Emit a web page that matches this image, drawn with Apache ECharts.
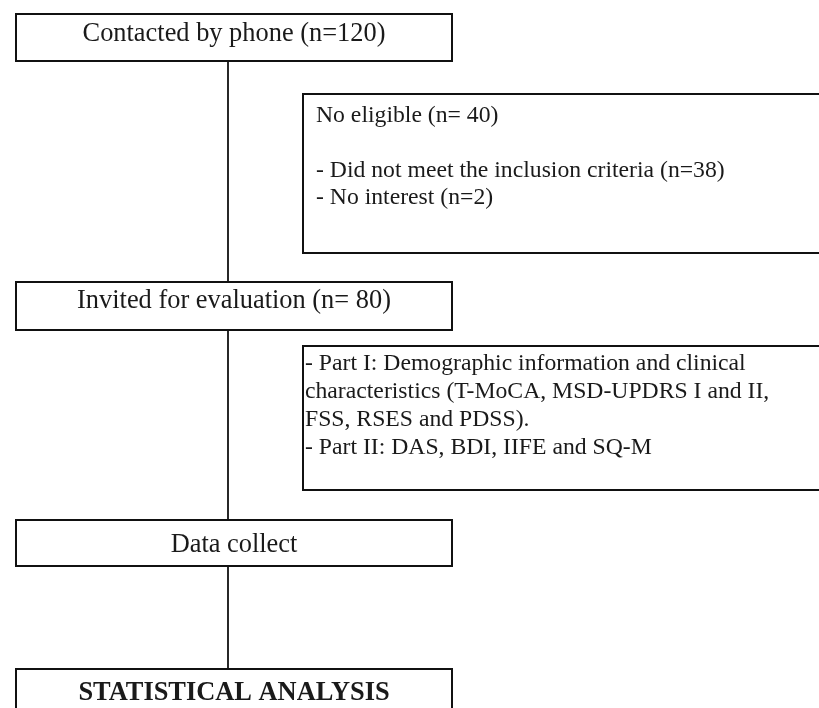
<!DOCTYPE html>
<html>
<head>
<meta charset="utf-8">
<script src="https://cdn.jsdelivr.net/npm/echarts@6/dist/echarts.min.js"></script>
<style>
  html, body { margin: 0; padding: 0; background: #ffffff; }
  #chart { width: 819px; height: 708px; }
</style>
</head>
<body>
<div id="chart"></div>
<script>
// ---- content (flowchart texts) ----
const stepLabels = [
  'Contacted by phone (n=120)',
  'Invited for evaluation (n= 80)',
  'Data collect',
  'STATISTICAL ANALYSIS'
];
const exclusionLines = [
  'No eligible (n= 40)',
  '',
  '- Did not meet the inclusion criteria (n=38)',
  '- No interest (n=2)'
];
const evaluationLines = [
  '- Part I: Demographic information and clinical',
  'characteristics (T-MoCA, MSD-UPDRS I and II,',
  'FSS, RSES and PDSS).',
  '- Part II: DAS, BDI, IIFE and SQ-M'
];

// ---- layout (in axis units = pixels of the 819x708 canvas) ----
const stepBoxes = [
  { x0: 16, x1: 452, y0: 14, y1: 61, ty: 34, bold: false },
  { x0: 16, x1: 452, y0: 282, y1: 330, ty: 301, bold: false },
  { x0: 16, x1: 452, y0: 520, y1: 566, ty: 545, bold: false },
  { x0: 16, x1: 452, y0: 669, y1: 780, ty: 693, bold: true }
];
const noteBoxes = [
  { x0: 303, x1: 840, y0: 94, y1: 253, tx: 316, ty: 116, lh: 27.3, lines: exclusionLines },
  { x0: 303, x1: 840, y0: 346, y1: 490, tx: 305, ty: 364, lh: 27.8, lines: evaluationLines }
];
const spineX = 228;
const connectors = [[61, 282], [330, 520], [566, 669]];

const LINE = '#111111';
const TEXT = '#1a1a1a';
const FONT_FAMILY = '"Liberation Serif", "Times New Roman", serif';

const chart = echarts.init(document.getElementById('chart'), null, { renderer: 'canvas' });

function rectShape(api, b) {
  const p0 = api.coord([b.x0, b.y0]);
  const p1 = api.coord([b.x1, b.y1]);
  return { x: p0[0], y: p0[1], width: p1[0] - p0[0], height: p1[1] - p0[1] };
}

const option = {
  animation: false,
  backgroundColor: '#ffffff',
  grid: { left: 0, right: 0, top: 0, bottom: 0, containLabel: false },
  xAxis: { type: 'value', min: 0, max: 819, show: false },
  yAxis: { type: 'value', min: 0, max: 708, inverse: true, show: false },
  series: [
    {
      name: 'connectors',
      type: 'custom',
      coordinateSystem: 'cartesian2d',
      silent: true,
      data: connectors.map((c) => [spineX, c[0], c[1]]),
      renderItem: function (params, api) {
        const a = api.coord([api.value(0), api.value(1)]);
        const b = api.coord([api.value(0), api.value(2)]);
        return {
          type: 'line',
          shape: { x1: a[0], y1: a[1], x2: b[0], y2: b[1] },
          style: { stroke: LINE, lineWidth: 1.8 }
        };
      }
    },
    {
      name: 'steps',
      type: 'custom',
      coordinateSystem: 'cartesian2d',
      silent: true,
      data: stepBoxes.map((b, i) => [(b.x0 + b.x1) / 2, b.ty, i]),
      renderItem: function (params, api) {
        const i = params.dataIndex;
        const b = stepBoxes[i];
        const c = api.coord([api.value(0), api.value(1)]);
        return {
          type: 'group',
          children: [
            {
              type: 'rect',
              shape: rectShape(api, b),
              style: { fill: '#ffffff', stroke: LINE, lineWidth: 2 }
            },
            {
              type: 'text',
              style: {
                text: stepLabels[i],
                x: c[0], y: c[1],
                align: 'center', verticalAlign: 'middle',
                fill: TEXT,
                font: (b.bold ? 'bold ' : '') + '26.4px ' + FONT_FAMILY
              }
            }
          ]
        };
      }
    },
    {
      name: 'notes',
      type: 'custom',
      coordinateSystem: 'cartesian2d',
      silent: true,
      data: noteBoxes.map((b, i) => [b.tx, b.ty, i]),
      renderItem: function (params, api) {
        const i = params.dataIndex;
        const b = noteBoxes[i];
        const children = [
          {
            type: 'rect',
            shape: rectShape(api, b),
            style: { fill: '#ffffff', stroke: LINE, lineWidth: 2 }
          }
        ];
        b.lines.forEach((t, k) => {
          const p = api.coord([api.value(0), api.value(1) + k * b.lh]);
          children.push({
            type: 'text',
            style: {
              text: t,
              x: p[0], y: p[1],
              align: 'left', verticalAlign: 'middle',
              fill: TEXT,
              font: '23.7px ' + FONT_FAMILY
            }
          });
        });
        return { type: 'group', children: children };
      }
    }
  ]
};
chart.setOption(option);
</script>
</body>
</html>
